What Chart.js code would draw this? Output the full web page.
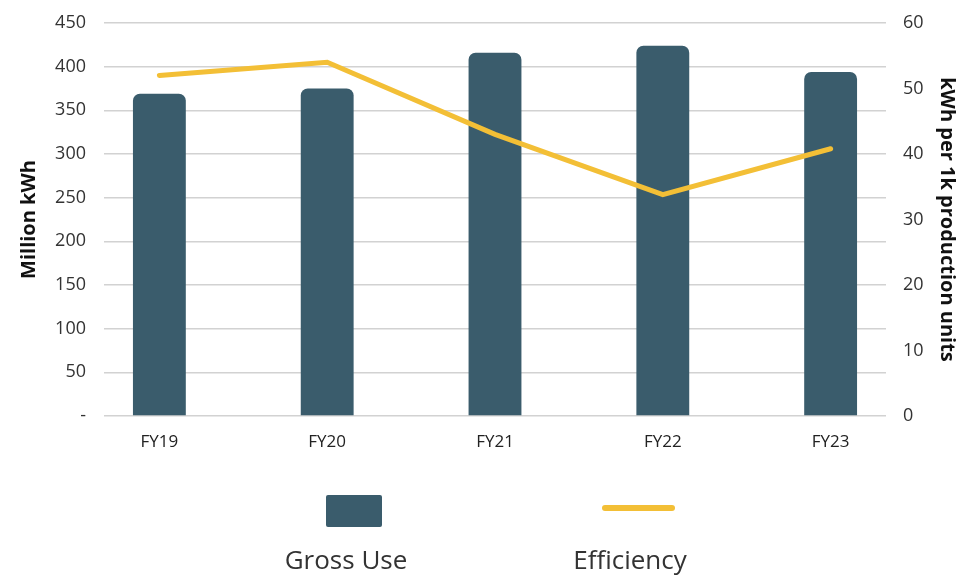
<!DOCTYPE html>
<html>
<head>
<meta charset="utf-8">
<script src="https://cdn.jsdelivr.net/npm/chart.js@4.4.0/dist/chart.umd.min.js"></script>
<style>
  html, body { margin: 0; padding: 0; background: #ffffff; }
  #wrap { width: 974px; height: 576px; position: relative; }
</style>
</head>
<body>
<div id="wrap"><canvas id="c" width="974" height="576"></canvas></div>
<script>
const categories = ['FY19', 'FY20', 'FY21', 'FY22', 'FY23'];
const grossUse = [369, 375, 416, 424, 394];
const efficiency = [52, 54, 43, 33.8, 40.8];
const leftTicks = { min: 0, max: 450, step: 50 };
const rightTicks = { min: 0, max: 60, step: 10 };

const BAR_COLOR = '#3a5c6c';
const LINE_COLOR = '#f3bf36';
const TEXT_COLOR = '#333333';
const FONT = '"Open Sans", Lato, sans-serif';

const legendPlugin = {
  id: 'bottomLegend',
  afterDraw(chart) {
    const ctx = chart.ctx;
    const ds = chart.data.datasets;
    ctx.save();
    ctx.fillStyle = ds[0].backgroundColor;
    ctx.beginPath();
    ctx.roundRect(326, 495, 56, 32, 2);
    ctx.fill();
    ctx.strokeStyle = ds[1].borderColor;
    ctx.lineWidth = 6;
    ctx.lineCap = 'round';
    ctx.beginPath();
    ctx.moveTo(605, 508);
    ctx.lineTo(672, 508);
    ctx.stroke();
    ctx.fillStyle = TEXT_COLOR;
    ctx.font = '26px ' + FONT;
    ctx.textAlign = 'center';
    ctx.textBaseline = 'middle';
    ctx.fillText(ds[0].label, 346, 562);
    ctx.fillText(ds[1].label, 630, 562);
    ctx.restore();
  }
};

const noPad = s => { s.paddingTop = 0; s.paddingBottom = 0; };

new Chart(document.getElementById('c'), {
  data: {
    datasets: [
      {
        type: 'bar',
        label: 'Gross Use',
        data: grossUse.map((v, i) => ({ x: i, y: v })),
        backgroundColor: BAR_COLOR,
        borderRadius: 7,
        borderSkipped: 'bottom',
        categoryPercentage: 1,
        barPercentage: 0.315,
        yAxisID: 'y',
        clip: false,
        order: 2
      },
      {
        type: 'line',
        label: 'Efficiency',
        data: efficiency.map((v, i) => ({ x: i, y: v })),
        borderColor: LINE_COLOR,
        backgroundColor: LINE_COLOR,
        borderWidth: 5,
        borderCapStyle: 'round',
        borderJoinStyle: 'miter',
        pointRadius: 0,
        tension: 0,
        yAxisID: 'y1',
        order: 1
      }
    ]
  },
  options: {
    responsive: false,
    animation: false,
    layout: { padding: { top: 23, right: 0, bottom: 0, left: 0 } },
    plugins: {
      legend: { display: false },
      tooltip: { enabled: false }
    },
    scales: {
      x: {
        type: 'linear',
        offset: false,
        min: -0.33,
        max: 4.33,
        grid: { display: false, drawTicks: false },
        border: { display: false },
        afterBuildTicks: s => { s.ticks = categories.map((_, i) => ({ value: i })); },
        afterFit: s => { s.height = 160; s.paddingLeft = 0; s.paddingRight = 0; },
        ticks: {
          padding: 16,
          color: '#222222',
          font: { family: FONT, size: 17 },
          callback: v => categories[v] ?? ''
        }
      },
      y: {
        position: 'left',
        min: leftTicks.min,
        max: leftTicks.max,
        grid: { color: '#d2d2d2', lineWidth: 1.5, drawTicks: false },
        border: { display: false },
        afterFit: s => { s.width = 104; noPad(s); },
        ticks: {
          stepSize: leftTicks.step,
          padding: 18,
          color: TEXT_COLOR,
          font: { family: FONT, size: 18 },
          callback: v => v === 0 ? '-' : v
        },
        title: {
          display: true,
          text: 'Million kWh',
          color: '#111111',
          font: { family: FONT, size: 20, weight: 'bold' },
          padding: { top: 17, bottom: 0 }
        }
      },
      y1: {
        position: 'right',
        min: rightTicks.min,
        max: rightTicks.max,
        grid: { display: false, drawTicks: false },
        border: { display: false },
        afterFit: s => { s.width = 88; noPad(s); },
        ticks: {
          stepSize: rightTicks.step,
          padding: 17,
          color: TEXT_COLOR,
          font: { family: FONT, size: 18 }
        },
        title: {
          display: true,
          text: 'kWh per 1k production units',
          color: '#111111',
          font: { family: FONT, size: 20, weight: 'bold' },
          padding: { top: 15, bottom: 0 }
        }
      }
    }
  },
  plugins: [legendPlugin]
});
</script>
</body>
</html>
